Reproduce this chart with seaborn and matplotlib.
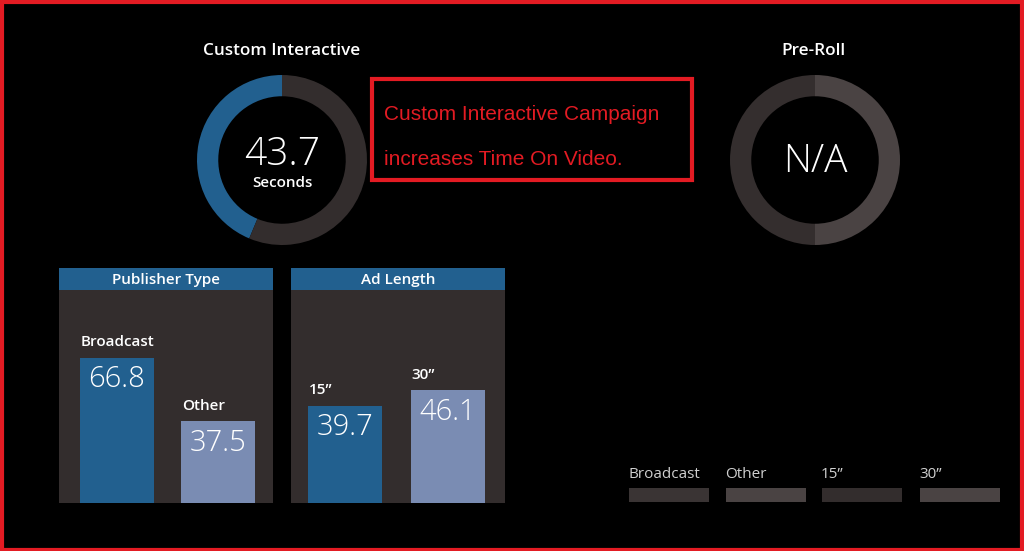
import matplotlib
matplotlib.use("Agg")
import matplotlib.pyplot as plt
import seaborn as sns
import pandas as pd
from matplotlib.patches import Rectangle

# ---- data ----
donut_title = "Custom Interactive"
donut_value = 43.7
donut_total = 100.0
preroll_title = "Pre-Roll"
preroll_parts = [50, 50]
pub_categories = ["Broadcast", "Other"]
pub_values = [66.8, 37.5]
len_categories = ["15\u201d", "30\u201d"]
len_values = [39.7, 46.1]
legend_labels = ["Broadcast", "Other", "15\u201d", "30\u201d"]
note_lines = ["Custom Interactive Campaign", "increases Time On Video."]

sns.set_theme(style="dark")
plt.rcParams["font.family"] = ["Open Sans", "DejaVu Sans"]

W, H = 1024, 551
fig = plt.figure(figsize=(W / 100, H / 100), dpi=100, facecolor="black")

BLUE = "#22608f"
LIGHT = "#7a8cb3"
PANEL = "#332d2d"
DARKGREY = "#342e2e"
MIDGREY = "#4a4343"
RED = "#e31b23"


def ax_px(x0, y0, x1, y1):
    return fig.add_axes([x0 / W, 1 - y1 / H, (x1 - x0) / W, (y1 - y0) / H])


def fx(x):
    return x / W


def fy(y):
    return 1 - y / H


# outer red border
fig.patches.append(Rectangle((0.0015, 0.002), 0.997, 0.995, transform=fig.transFigure,
                             fill=False, edgecolor=RED, linewidth=3))

# ---- donut 1 ----
ax = ax_px(197, 75, 367, 245)
ax.pie([donut_value, donut_total - donut_value], colors=[BLUE, PANEL], startangle=90,
       counterclock=True, radius=1, wedgeprops=dict(width=0.25, linewidth=0))
ax.set_xlim(-1, 1); ax.set_ylim(-1, 1); ax.set_aspect("equal"); ax.axis("off")
ax.text(0, 0.06, f"{donut_value}", ha="center", va="center", color="white",
        fontsize=28, fontweight="light")
ax.text(0, -0.27, "Seconds", ha="center", va="center", color="white",
        fontsize=11, fontweight="semibold")
fig.text(fx(282), fy(51), donut_title, ha="center", va="center", color="white",
         fontsize=12.3, fontweight="semibold")

# ---- donut 2 ----
ax = ax_px(730, 75, 900, 245)
ax.pie(preroll_parts, colors=[DARKGREY, MIDGREY], startangle=90, counterclock=True,
       radius=1, wedgeprops=dict(width=0.25, linewidth=0))
ax.set_xlim(-1, 1); ax.set_ylim(-1, 1); ax.set_aspect("equal"); ax.axis("off")
ax.text(0, -0.02, "N/A", ha="center", va="center", color="white", fontsize=28,
        fontweight="light")
fig.text(fx(813), fy(51), preroll_title, ha="center", va="center", color="white",
         fontsize=12.3, fontweight="semibold")

# ---- note box ----
fig.patches.append(Rectangle((fx(372), fy(180)), fx(692) - fx(372), fy(79) - fy(180),
                             transform=fig.transFigure, fill=False, edgecolor=RED,
                             linewidth=3))
fig.text(fx(384), fy(115), note_lines[0], ha="left", va="center", color=RED,
         fontsize=15, family="Liberation Sans")
fig.text(fx(384), fy(159), note_lines[1], ha="left", va="center", color=RED,
         fontsize=15, family="Liberation Sans")


# ---- bar panels ----
def panel(x0, x1, title, cats, vals, ymax, c0, c1):
    # c0, c1: pixel centres of the two bars (layout only)
    hx = ax_px(x0, 268, x1, 290)
    hx.set_facecolor(BLUE)
    hx.set_xticks([]); hx.set_yticks([])
    for s in hx.spines.values():
        s.set_visible(False)
    hx.text(0.5, 0.45, title, transform=hx.transAxes, ha="center", va="center",
            color="white", fontsize=11, fontweight="semibold")
    bx = ax_px(x0, 290, x1, 503)
    df = pd.DataFrame({"cat": cats, "val": vals})
    ppu = float(c1 - c0)
    width = 74 / ppu
    sns.barplot(data=df, x="cat", y="val", hue="cat", palette=[BLUE, LIGHT],
                legend=False, ax=bx, width=width, saturation=1, linewidth=0)
    bx.set_facecolor(PANEL)
    xleft = -(c0 - x0) / ppu
    bx.set_xlim(xleft, xleft + (x1 - x0) / ppu)
    bx.set_ylim(0, ymax)
    bx.set_xticks([]); bx.set_yticks([])
    bx.set_xlabel(""); bx.set_ylabel("")
    bx.grid(False)
    for s in bx.spines.values():
        s.set_visible(False)
    for i, (c, v) in enumerate(zip(cats, vals)):
        left = i - width / 2
        bx.annotate(c, (left, v), xytext=(0.5, 6), textcoords="offset points",
                    ha="left", va="bottom", color="white", fontsize=11,
                    fontweight="semibold")
        bx.annotate(f"{v}", (i, v), xytext=(0, -5), textcoords="offset points",
                    ha="center", va="top", color="white", fontsize=21,
                    fontweight="light")


panel(59, 273, "Publisher Type", pub_categories, pub_values, 98, 117, 218)
panel(291, 505, "Ad Length", len_categories, len_values, 87, 345, 448)

# ---- legend ----
leg_x = [629, 726, 822, 920]
leg_c = ["#3a3434", MIDGREY, PANEL, MIDGREY]
for lab, x, c in zip(legend_labels, leg_x, leg_c):
    fig.text(fx(x - 1), fy(475), lab, ha="left", va="center", color="#d0d0d0",
             fontsize=11)
    fig.patches.append(Rectangle((fx(x), fy(502)), fx(80), fy(488) - fy(502),
                                 transform=fig.transFigure, facecolor=c,
                                 edgecolor="none"))

fig.savefig("out.png", dpi=100, facecolor="black")
